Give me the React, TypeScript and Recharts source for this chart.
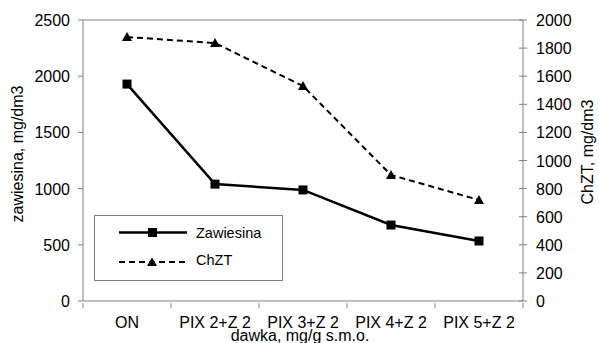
import React from 'react';
import { LineChart, Line, XAxis, YAxis, ReferenceLine } from 'recharts';

const categories = ['ON', 'PIX 2+Z 2', 'PIX 3+Z 2', 'PIX 4+Z 2', 'PIX 5+Z 2'];
const zawiesina = [1930, 1040, 988, 676, 534];
const chzt = [1879, 1836, 1530, 897, 719];
const leftTicks = [0, 500, 1000, 1500, 2000, 2500];
const rightTicks = [0, 200, 400, 600, 800, 1000, 1200, 1400, 1600, 1800, 2000];

const W = 599;
const H = 343;
const LEFT_W = 83;
const RIGHT_W = 76;
const TOP = 20;
const X_AXIS_H = 42;
const PLOT_W = W - LEFT_W - RIGHT_W;
const BAND = PLOT_W / categories.length;
const FONT = '"Liberation Sans", Arial, sans-serif';
const AXIS_COLOR = '#808080';

const data = categories.map((name, i) => ({ name, zawiesina: zawiesina[i], chzt: chzt[i] }));

const SquareDot = (props: any) => {
  const { cx, cy } = props;
  if (cx == null || cy == null) return null;
  return <rect x={cx - 4.5} y={cy - 4.5} width={9} height={9} fill="#000" />;
};

const TriangleDot = (props: any) => {
  const { cx, cy } = props;
  if (cx == null || cy == null) return null;
  return <polygon points={`${cx},${cy - 5} ${cx - 5},${cy + 4} ${cx + 5},${cy + 4}`} fill="#000" />;
};

const CategoryTick = (props: any) => {
  const { x, y, payload, index } = props;
  const left = x - BAND / 2;
  return (
    <g>
      <line x1={left} y1={y} x2={left} y2={y + 5} stroke={AXIS_COLOR} />
      {index === categories.length - 1 && (
        <line x1={x + BAND / 2} y1={y} x2={x + BAND / 2} y2={y + 5} stroke={AXIS_COLOR} />
      )}
      <text x={x} y={y + 25} textAnchor="middle" fontSize={16} fontFamily={FONT} fill="#000">
        {payload.value}
      </text>
    </g>
  );
};

const LeftTick = (props: any) => {
  const { y, payload } = props;
  return (
    <g>
      <line x1={LEFT_W - 5} y1={y} x2={LEFT_W} y2={y} stroke={AXIS_COLOR} />
      <text x={LEFT_W - 13} y={y} dy={6} textAnchor="end" fontSize={16} fontFamily={FONT} fill="#000">
        {payload.value}
      </text>
    </g>
  );
};

const RightTick = (props: any) => {
  const { y, payload } = props;
  const ax = W - RIGHT_W;
  return (
    <g>
      <line x1={ax - 4} y1={y} x2={ax + 4} y2={y} stroke={AXIS_COLOR} />
      <text x={ax + 13} y={y} dy={6} textAnchor="start" fontSize={16} fontFamily={FONT} fill="#000">
        {payload.value}
      </text>
    </g>
  );
};

const LegendBox = () => (
  <div
    style={{
      position: 'absolute',
      left: 94,
      top: 215,
      width: 189,
      height: 66,
      boxSizing: 'border-box',
      border: '1px solid #808080',
      background: '#fff',
    }}
  >
    <svg width={187} height={64} style={{ display: 'block' }}>
      <line x1={24} y1={16.5} x2={92} y2={16.5} stroke="#000" strokeWidth={2.5} />
      <rect x={53} y={12} width={9} height={9} fill="#000" />
      <text x={101} y={21.5} fontSize={14.5} fontFamily={FONT} fill="#000">Zawiesina</text>
      <line x1={24} y1={46} x2={92} y2={46} stroke="#000" strokeWidth={2} strokeDasharray="6 4" />
      <polygon points="57,41.5 52,50 62,50" fill="#000" />
      <text x={101} y={48.5} fontSize={14.5} fontFamily={FONT} fill="#000">ChZT</text>
    </svg>
  </div>
);

export default function App() {
  return (
    <div style={{ position: 'absolute', left: 0, top: 0, width: W, height: H, background: '#fff' }}>
      <LineChart
        width={W}
        height={H}
        data={data}
        margin={{ top: TOP, right: 0, left: 0, bottom: 0 }}
      >
        <XAxis
          dataKey="name"
          xAxisId="cat"
          height={X_AXIS_H}
          padding={{ left: BAND / 2, right: BAND / 2 }}
          stroke={AXIS_COLOR}
          tickLine={false}
          tickSize={0}
          tick={<CategoryTick />}
          interval={0}
        />
        <YAxis
          yAxisId="left"
          orientation="left"
          width={LEFT_W}
          domain={[0, 2500]}
          ticks={leftTicks}
          stroke={AXIS_COLOR}
          tickLine={false}
          tick={<LeftTick />}
          interval={0}
        />
        <YAxis
          yAxisId="right"
          orientation="right"
          width={RIGHT_W}
          domain={[0, 2000]}
          ticks={rightTicks}
          stroke={AXIS_COLOR}
          tickLine={false}
          tick={<RightTick />}
          interval={0}
        />
        <ReferenceLine xAxisId="cat" yAxisId="left" y={2500} stroke={AXIS_COLOR} />
        <Line
          xAxisId="cat"
          yAxisId="right"
          dataKey="chzt"
          stroke="#000"
          strokeWidth={2}
          strokeDasharray="6 4"
          dot={<TriangleDot />}
          isAnimationActive={false}
        />
        <Line
          xAxisId="cat"
          yAxisId="left"
          dataKey="zawiesina"
          stroke="#000"
          strokeWidth={2.5}
          dot={<SquareDot />}
          isAnimationActive={false}
        />
      </LineChart>
      <LegendBox />
      <svg
        width={W}
        height={H}
        style={{ position: 'absolute', left: 0, top: 0, pointerEvents: 'none' }}
      >
        <text
          x={17}
          y={154}
          transform="rotate(-90 17 154)"
          textAnchor="middle"
          dominantBaseline="central"
          fontSize={16}
          fontFamily={FONT}
          fill="#000"
        >
          zawiesina, mg/dm3
        </text>
        <text
          x={587}
          y={152}
          transform="rotate(-90 587 152)"
          textAnchor="middle"
          dominantBaseline="central"
          fontSize={16}
          fontFamily={FONT}
          fill="#000"
        >
          ChZT, mg/dm3
        </text>
        <text x={300} y={341} textAnchor="middle" fontSize={16} fontFamily={FONT} fill="#000">
          dawka, mg/g s.m.o.
        </text>
      </svg>
    </div>
  );
}
